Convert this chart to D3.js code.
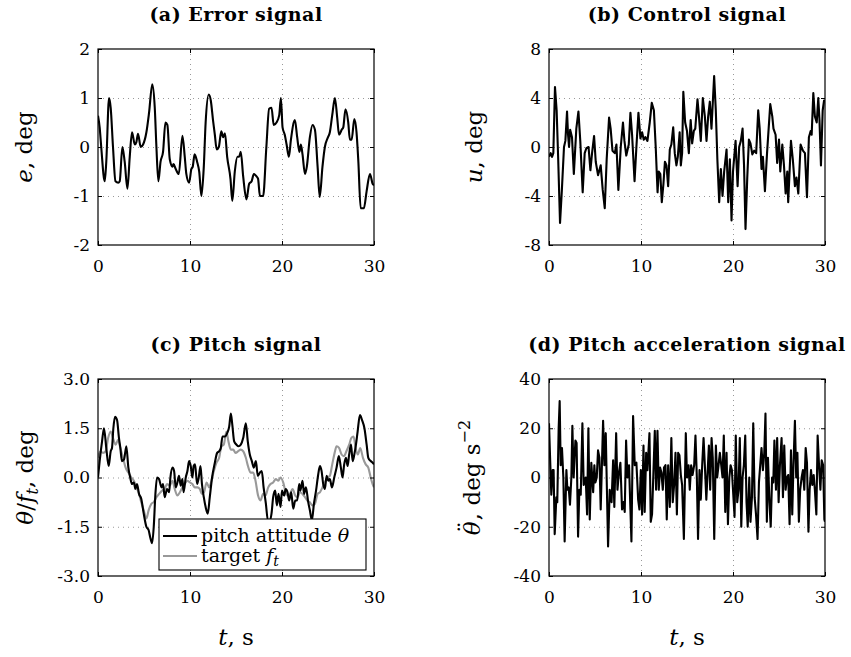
<!DOCTYPE html>
<html>
<head>
<meta charset="utf-8">
<script src="https://cdn.jsdelivr.net/npm/d3@7.9.0/dist/d3.min.js"></script>
<style>
  body { margin: 0; background: #fff; }
  svg { display: block; }
  text { font-family: 'DejaVu Serif', serif; fill: #000; }
  .title { font-weight: bold; font-size: 19px; letter-spacing: 0.5px; }
  .grid line { stroke: #999; stroke-dasharray: 1,4; }
  .grid path { display: none; }
</style>
</head>
<body>
<script>
// (a) error signal e, deg
const errT = [0,0.18,0.35,0.73,0.9,1.2,1.38,1.63,1.9,2.2,2.36,2.65,2.9,3.2,3.45,3.7,4.0,4.17,4.35,4.64,4.9,5.26,5.55,5.9,6.17,6.35,6.56,6.8,7.07,7.33,7.54,7.8,8.1,8.2,8.45,8.78,9.18,9.43,9.6,9.9,10.15,10.3,10.5,10.77,11.0,11.24,11.5,11.7,12.04,12.26,12.5,12.7,12.9,13.13,13.4,13.6,13.8,14.04,14.4,14.6,14.87,15.16,15.34,15.52,15.78,16.14,16.43,16.7,16.94,17.23,17.4,17.6,17.95,18.3,18.6,18.86,19.1,19.4,19.7,19.88,20.06,20.3,20.5,20.75,20.97,21.4,21.65,21.9,22.05,22.23,22.5,22.7,23.03,23.32,23.58,23.87,24.1,24.4,24.66,25.0,25.2,25.46,25.75,26.0,26.2,26.48,26.66,26.9,27.2,27.38,27.57,27.86,28.1,28.3,28.55,28.9,29.2,29.56,29.85,30];
const errVal = [0.64,0.4,0.0,-0.7,-0.3,1.0,0.8,0.0,-0.7,-0.73,-0.7,0.0,-0.3,-0.85,-0.2,0.3,0.05,0.1,0.27,0.0,0.05,0.3,0.7,1.28,0.8,0.0,-0.7,-0.3,-0.1,0.5,0.45,-0.25,-0.4,-0.35,-0.45,-0.55,0.23,-0.2,-0.55,-0.73,-0.45,-0.4,-0.15,-0.3,-0.5,-1.0,-0.4,0.5,1.07,0.95,0.55,0.25,-0.05,0.0,0.32,0.2,0.28,-0.2,-0.65,-1.1,-0.5,-0.2,-0.2,-0.1,-0.6,-1.07,-0.75,-0.7,-0.55,-0.6,-0.65,-1.0,-1.0,0.0,0.78,0.8,0.45,0.5,0.65,1.0,0.4,0.25,0.05,-0.2,0.15,0.55,0.2,-0.1,0.05,-0.15,-0.55,-0.4,0.2,0.45,0.35,-0.4,-1.02,-0.4,0.0,0.2,0.3,0.65,1.0,0.6,0.25,0.35,0.4,0.77,0.5,0.15,0.15,0.57,0.3,-0.3,-1.25,-1.25,-0.9,-0.55,-0.75,-0.78];

// (b) control signal u, deg
const ctrlT = [0,0.18,0.33,0.47,0.65,0.83,1.0,1.2,1.4,1.63,1.78,1.96,2.07,2.18,2.3,2.5,2.7,2.97,3.2,3.4,3.66,3.88,4.06,4.3,4.5,4.68,4.9,5.08,5.33,5.62,5.84,6.06,6.27,6.53,6.7,6.9,7.15,7.33,7.54,7.8,8.04,8.2,8.4,8.67,8.85,9.03,9.3,9.5,9.72,9.94,10.12,10.3,10.48,10.7,10.95,11.17,11.4,11.6,11.8,11.93,12.1,12.26,12.44,12.6,12.77,12.95,13.13,13.3,13.5,13.67,13.85,14.0,14.2,14.33,14.47,14.6,14.8,15.0,15.2,15.4,15.56,15.74,15.9,16.14,16.3,16.5,16.72,16.94,17.12,17.3,17.48,17.66,17.95,18.13,18.3,18.5,18.68,18.86,19.04,19.3,19.48,19.66,19.84,20.0,20.28,20.5,20.67,20.85,21.04,21.2,21.36,21.55,21.73,21.9,22.1,22.3,22.52,22.74,22.9,23.1,23.25,23.47,23.7,24.05,24.27,24.4,24.63,24.8,25.0,25.14,25.36,25.54,25.72,25.9,26.0,26.3,26.5,26.73,26.9,27.1,27.35,27.6,27.82,28.04,28.25,28.44,28.55,28.73,28.9,29.1,29.27,29.4,29.56,29.75,29.9,30];
const ctrlVal = [-0.8,-0.5,-0.8,-0.5,4.9,3.0,-1.0,-6.2,-3.5,0.0,0.5,2.9,1.0,0.0,1.4,0.8,-2.2,1.5,2.9,0.5,-3.7,-0.5,-0.1,0.0,-1.9,-0.5,0.9,-1.2,-2.3,-1.5,-3.5,-5.0,-1.0,2.4,1.5,-0.3,-0.5,0.2,-3.5,0.0,2.0,0.5,-0.7,0.2,2.8,1.0,-2.8,0.0,2.8,0.7,1.2,0.6,0.8,0.5,2.0,3.6,3.0,0.0,-3.7,-2.0,-2.2,-4.5,-3.0,-1.2,-1.5,-3.2,-0.2,0.2,1.6,-0.5,-1.5,-0.8,1.2,-1.5,-0.5,4.5,2.0,1.3,-0.5,2.2,0.3,1.3,1.5,3.9,2.5,0.5,4.0,2.5,0.5,2.5,3.7,1.5,5.8,3.0,-1.0,-4.5,-1.8,-4.0,-2.0,-0.2,-4.5,-1.0,-6.0,-2.0,0.5,-3.2,0.0,0.5,1.5,-1.5,-6.7,-2.5,0.6,0.3,-0.6,-0.3,-0.5,3.0,1.5,-1.8,-0.8,-3.6,-0.5,3.5,2.5,1.5,1.0,-1.3,0.6,-2.0,0.2,-1.5,-3.8,-2.0,-4.5,0.5,-1.0,-3.2,-2.5,-3.8,0.2,-0.3,-0.5,-4.1,0.8,1.3,1.0,4.4,2.5,2.0,4.0,2.2,-1.5,3.0,3.8,3.7];

// (c) pitch attitude theta and target f_t, deg
const pitchT = [0,0.18,0.44,0.65,0.9,1.16,1.38,1.52,1.67,1.85,2.07,2.28,2.43,2.6,2.83,3.08,3.3,3.5,3.7,3.9,4.06,4.24,4.46,4.7,4.97,5.26,5.5,5.7,5.88,6.06,6.24,6.42,6.64,6.9,7.07,7.25,7.5,7.73,7.87,8.1,8.27,8.45,8.63,8.8,9.0,9.18,9.3,9.54,9.72,9.9,10.08,10.26,10.4,10.55,10.77,10.95,11.14,11.3,11.5,11.7,11.93,12.15,12.4,12.7,12.95,13.17,13.35,13.53,13.8,14.04,14.26,14.44,14.6,14.8,15.05,15.27,15.52,15.78,16.07,16.28,16.5,16.72,16.94,17.16,17.37,17.6,17.8,18.0,18.25,18.46,18.7,18.86,19.04,19.26,19.44,19.62,19.84,20.0,20.24,20.4,20.6,20.78,21.0,21.22,21.44,21.65,21.87,22.0,22.23,22.4,22.6,22.85,23.03,23.25,23.47,23.7,23.94,24.12,24.3,24.48,24.66,24.85,25.03,25.2,25.43,25.68,25.93,26.18,26.4,26.58,26.76,26.95,27.13,27.3,27.5,27.68,27.86,28.04,28.22,28.47,28.7,28.96,29.2,29.38,29.64,29.85,30];
const pitchVal = [0.0,0.5,1.1,1.5,0.9,0.35,0.8,0.9,1.5,1.85,1.75,1.2,0.9,0.5,0.55,0.95,0.3,0.0,-0.2,-0.15,-0.35,-0.2,-0.5,-0.65,-1.1,-1.5,-1.6,-1.85,-2.0,-1.5,-0.5,0.0,-0.05,-0.3,-0.2,-0.6,-0.35,-0.45,0.0,0.3,0.2,-0.3,-0.15,0.05,-0.25,-0.05,-0.45,0.0,0.2,0.5,0.35,0.0,0.35,0.4,-0.2,0.0,0.35,-0.2,-0.6,-0.9,-1.1,-0.6,0.0,0.45,0.75,0.8,0.9,1.25,1.25,1.35,1.55,1.95,1.6,1.1,1.0,0.95,1.0,1.2,1.65,1.1,0.7,0.5,0.3,0.5,0.05,0.15,0.2,-0.3,-0.8,-1.3,-1.3,-1.1,-0.6,-0.4,-0.85,-0.5,-0.9,-0.4,-0.55,-0.35,-0.45,-0.7,-0.45,-0.95,-0.7,-0.7,-0.2,-0.4,-0.1,-0.5,-0.3,-0.75,-1.0,-1.3,-0.8,-0.4,0.1,0.35,0.2,-0.2,-0.35,0.05,-0.1,-0.05,-0.3,0.0,0.3,0.65,0.3,0.0,0.4,0.6,0.35,0.7,1.0,0.5,0.7,1.0,1.4,1.9,1.75,1.5,1.0,0.6,0.5,0.45,0.4];
const targetT = [0,0.25,0.54,0.83,1.1,1.38,1.63,1.92,2.18,2.43,2.72,3.0,3.3,3.63,3.9,4.17,4.46,4.7,4.97,5.26,5.5,5.8,6.06,6.35,6.64,6.96,7.25,7.5,7.8,8.1,8.34,8.63,8.9,9.18,9.43,9.72,9.98,10.26,10.5,10.8,11.06,11.3,11.53,11.8,12.08,12.33,12.6,12.88,13.17,13.42,13.67,13.96,14.18,14.44,14.7,14.95,15.24,15.5,15.78,16.07,16.3,16.58,16.87,17.12,17.4,17.66,17.95,18.2,18.5,18.75,19.04,19.33,19.6,19.84,20.13,20.4,20.64,20.86,21.15,21.44,21.7,21.95,22.23,22.5,22.74,23.03,23.3,23.58,23.87,24.12,24.4,24.66,24.95,25.2,25.46,25.72,25.93,26.2,26.48,26.73,27.0,27.3,27.53,27.78,28.0,28.25,28.5,28.8,29.1,29.38,29.64,29.85,30];
const targetVal = [0.6,0.8,0.75,0.8,1.2,1.4,1.2,1.0,1.15,0.9,0.6,0.3,0.15,0.0,-0.1,-0.3,-0.5,-0.75,-1.0,-1.25,-1.0,-0.8,-0.75,-0.6,-0.5,-0.4,-0.35,-0.2,-0.25,-0.1,-0.35,-0.55,-0.45,-0.3,-0.2,-0.1,-0.15,-0.2,-0.3,-0.3,-0.35,-0.5,-0.45,-0.15,-0.3,-0.1,0.2,0.45,0.6,0.95,1.0,1.4,1.1,0.85,0.85,0.75,0.8,0.85,0.8,0.6,0.35,0.15,0.15,-0.1,-0.55,-0.7,-0.5,-0.55,-0.3,-0.2,-0.15,-0.05,-0.1,0.0,-0.15,-0.45,-0.55,-0.5,-0.35,-0.55,-0.6,-0.45,-0.5,-0.6,-0.7,-0.75,-0.85,-0.8,-0.5,-0.45,-0.3,-0.15,0.0,0.05,0.4,0.75,0.95,0.9,0.7,0.65,0.8,1.0,1.2,1.25,0.9,0.7,0.9,0.6,0.4,0.3,0.0,-0.2,-0.3];

// (d) pitch acceleration, deg s^-2
const accT = [0,0.1,0.25,0.4,0.5,0.62,0.8,0.9,1.05,1.16,1.27,1.41,1.56,1.7,1.89,2.0,2.14,2.28,2.43,2.54,2.68,2.87,3.0,3.16,3.3,3.45,3.63,3.77,3.99,4.14,4.28,4.43,4.6,4.8,4.93,5.04,5.19,5.33,5.48,5.62,5.88,6.02,6.17,6.42,6.6,6.8,6.97,7.1,7.3,7.44,7.6,7.76,7.94,8.1,8.23,8.38,8.52,8.7,8.96,9.14,9.32,9.5,9.69,9.83,9.98,10.12,10.27,10.4,10.56,10.7,10.92,11.06,11.2,11.35,11.5,11.64,11.79,11.93,12.08,12.22,12.37,12.5,12.66,12.8,12.95,13.13,13.3,13.45,13.6,13.75,13.9,14.04,14.18,14.33,14.47,14.66,14.87,15.0,15.17,15.3,15.45,15.6,15.78,15.92,16.07,16.2,16.36,16.5,16.65,16.8,16.94,17.1,17.24,17.38,17.52,17.67,17.8,17.96,18.14,18.28,18.43,18.57,18.72,18.86,19.0,19.16,19.3,19.45,19.6,19.74,19.88,20.0,20.17,20.3,20.46,20.6,20.74,20.9,21.04,21.18,21.33,21.47,21.6,21.77,21.9,22.06,22.2,22.35,22.5,22.67,22.82,22.96,23.1,23.25,23.4,23.53,23.68,23.8,23.96,24.1,24.25,24.38,24.5,24.67,24.8,24.96,25.1,25.28,25.43,25.57,25.72,25.86,26.0,26.15,26.3,26.44,26.57,26.73,26.87,27.0,27.16,27.3,27.46,27.6,27.75,27.9,28.04,28.2,28.33,28.48,28.62,28.77,28.9,29.06,29.2,29.35,29.5,29.64,29.8,29.93,30];
const accVal = [22,10,-7,3,3,-23,-8,-10,20,31,5,12,0,-26,3,-5,-4,-11,0,21,0,15,14,-24,-5,-7,22,-3,0,-15,20,-17,6,-6,5,-2,0,11,8,-13,23,5,18,-28,-5,-10,7,-12,18,-5,2,6,-13,-10,-14,15,0,5,-26,25,5,6,-9,-13,3,-15,13,-14,10,3,18,-18,-15,2,19,-5,19,-5,4,2,-5,4,5,-17,5,-12,16,-10,-3,10,-15,10,9,1,-3,-25,18,0,5,-5,5,1,5,17,0,-25,3,-9,5,16,5,-9,2,13,-5,16,8,-25,13,0,5,10,5,0,17,-14,10,-19,0,5,3,-5,-16,17,-10,-5,16,-20,0,5,17,-10,-20,0,-18,-8,22,-8,-15,-25,-2,5,12,3,10,26,-18,8,-10,-20,0,-2,15,-5,16,-10,5,16,-8,13,-5,0,1,-19,11,-15,5,23,0,10,-18,-5,0,3,-5,12,6,-22,-5,3,-3,1,-5,-15,17,5,-5,7,5,-17,-18];

const xTicks = [0, 10, 20, 30];
const errTicks = [-2, -1, 0, 1, 2];
const ctrlTicks = [-8, -4, 0, 4, 8];
const pitchTicks = [-3, -1.5, 0, 1.5, 3];
const accTicks = [-40, -20, 0, 20, 40];

const svg = d3.select('body').append('svg').attr('width', 851).attr('height', 657);

function zip(t, v) { return t.map((d, i) => [d, v[i]]); }

function makePanel(cfg) {
  const w = cfg.x1 - cfg.x0, h = cfg.y1 - cfg.y0;
  const g = svg.append('g').attr('transform', `translate(${cfg.x0},${cfg.y0})`);
  const x = d3.scaleLinear().domain([0, 30]).range([0, w]);
  const y = d3.scaleLinear().domain([cfg.yTicks[0], cfg.yTicks[cfg.yTicks.length - 1]]).range([h, 0]);

  // dotted grid
  g.append('g').attr('class', 'grid').attr('transform', `translate(0,${h})`)
    .call(d3.axisBottom(x).tickValues(xTicks.slice(1, -1)).tickSize(-h).tickFormat(''));
  g.append('g').attr('class', 'grid')
    .call(d3.axisLeft(y).tickValues(cfg.yTicks.slice(1, -1)).tickSize(-w).tickFormat(''));

  const clipId = 'clip-' + cfg.id;
  g.append('clipPath').attr('id', clipId).append('rect').attr('width', w).attr('height', h);
  const plot = g.append('g').attr('clip-path', `url(#${clipId})`);
  cfg.series.forEach(s => {
    plot.append('path')
      .datum(zip(s.t, s.v))
      .attr('fill', 'none')
      .attr('stroke', s.color)
      .attr('stroke-width', 2.1)
      .attr('stroke-linejoin', 'round')
      .attr('d', d3.line().x(d => x(d[0])).y(d => y(d[1])).curve(s.curve || d3.curveLinear));
  });

  // axes with inward ticks
  const bottom = g.append('g').attr('transform', `translate(0,${h})`)
    .call(d3.axisBottom(x).tickValues(xTicks).tickSize(-4).tickPadding(15));
  const left = g.append('g')
    .call(d3.axisLeft(y).tickValues(cfg.yTicks).tickSize(-4).tickPadding(8).tickFormat(cfg.fmt));
  const top = g.append('g').call(d3.axisTop(x).tickValues(xTicks).tickSize(-4).tickFormat(''));
  const right = g.append('g').attr('transform', `translate(${w},0)`)
    .call(d3.axisRight(y).tickValues(cfg.yTicks).tickSize(-4).tickFormat(''));
  [bottom, left, top, right].forEach(a => {
    a.attr('font-family', 'DejaVu Serif').attr('font-size', 17);
    a.select('.domain').remove();
    a.selectAll('line').attr('stroke', '#000');
  });
  g.append('rect').attr('width', w).attr('height', h)
    .attr('fill', 'none').attr('stroke', '#000').attr('stroke-width', 1.2);

  svg.append('text').attr('class', 'title')
    .attr('x', (cfg.x0 + cfg.x1) / 2).attr('y', cfg.y0 - 28.5)
    .attr('text-anchor', 'middle').text(cfg.title);

  const yl = svg.append('text')
    .attr('transform', `translate(${cfg.ylx},${(cfg.y0 + cfg.y1) / 2}) rotate(-90)`)
    .attr('text-anchor', 'middle').attr('font-size', 23);
  cfg.ylabel(yl);

  if (cfg.xlabel) {
    const xl = svg.append('text').attr('x', (cfg.x0 + cfg.x1) / 2).attr('y', 645)
      .attr('text-anchor', 'middle').attr('font-size', 23);
    xl.append('tspan').attr('font-style', 'italic').text('t');
    xl.append('tspan').text(', s');
  }
  return { g, x, y, w, h };
}

const intFmt = d => String(d);

makePanel({
  id: 'a', x0: 98, x1: 374, y0: 49, y1: 245, yTicks: errTicks, fmt: intFmt,
  title: '(a) Error signal', ylx: 32,
  series: [{ t: errT, v: errVal, color: '#000', curve: d3.curveMonotoneX }],
  ylabel: t => { t.append('tspan').attr('font-style', 'italic').text('e'); t.append('tspan').text(', deg'); }
});

makePanel({
  id: 'b', x0: 549, x1: 825, y0: 49, y1: 245, yTicks: ctrlTicks, fmt: intFmt,
  title: '(b) Control signal', ylx: 482,
  series: [{ t: ctrlT, v: ctrlVal, color: '#000' }],
  ylabel: t => { t.append('tspan').attr('font-style', 'italic').text('u'); t.append('tspan').text(', deg'); }
});

const pc = makePanel({
  id: 'c', x0: 98, x1: 374, y0: 379, y1: 576, yTicks: pitchTicks, fmt: d => d3.format('.1f')(d).replace('\u2212', '-'),
  title: '(c) Pitch signal', ylx: 33, xlabel: true,
  series: [
    { t: targetT, v: targetVal, color: '#999', curve: d3.curveMonotoneX },
    { t: pitchT, v: pitchVal, color: '#000', curve: d3.curveMonotoneX }
  ],
  ylabel: t => {
    t.append('tspan').attr('font-style', 'italic').text('\u03b8');
    t.append('tspan').text('/');
    t.append('tspan').attr('font-style', 'italic').text('f');
    t.append('tspan').attr('font-style', 'italic').attr('font-size', 16).attr('dy', 5).text('t');
    t.append('tspan').attr('dy', -5).text(', deg');
  }
});

makePanel({
  id: 'd', x0: 549, x1: 825, y0: 379, y1: 576, yTicks: accTicks, fmt: intFmt,
  title: '(d) Pitch acceleration signal', ylx: 480, xlabel: true,
  series: [{ t: accT, v: accVal, color: '#000' }],
  ylabel: t => {
    t.append('tspan').attr('font-style', 'italic').text('\u03b8');
    t.append('tspan').attr('dx', '-0.5em').attr('dy', '-0.2em').text('\u00a8');
    t.append('tspan').attr('dx', '0.05em').attr('dy', '0.2em').text(', deg s');
    t.append('tspan').attr('font-size', 16).attr('dy', -10).text('\u22122');
  }
});

// legend inside (c)
const lg = pc.g.append('g').attr('transform', `translate(${159 - 98},${519 - 379})`);
lg.append('rect').attr('width', 207).attr('height', 51)
  .attr('fill', '#fff').attr('stroke', '#000').attr('stroke-width', 1.1);
const legendItems = [
  { color: '#000', label: t => { t.append('tspan').text('pitch attitude '); t.append('tspan').attr('font-style', 'italic').text('\u03b8'); } },
  { color: '#999', label: t => { t.append('tspan').text('target '); t.append('tspan').attr('font-style', 'italic').text('f'); t.append('tspan').attr('font-style', 'italic').attr('font-size', 14).attr('dy', 4).text('t'); } }
];
legendItems.forEach((it, i) => {
  const yy = 17 + i * 20;
  lg.append('line').attr('x1', 4).attr('x2', 38).attr('y1', yy).attr('y2', yy)
    .attr('stroke', it.color).attr('stroke-width', 2.1);
  const t = lg.append('text').attr('x', 42).attr('y', yy + 6).attr('font-size', 19);
  it.label(t);
});
</script>
</body>
</html>
